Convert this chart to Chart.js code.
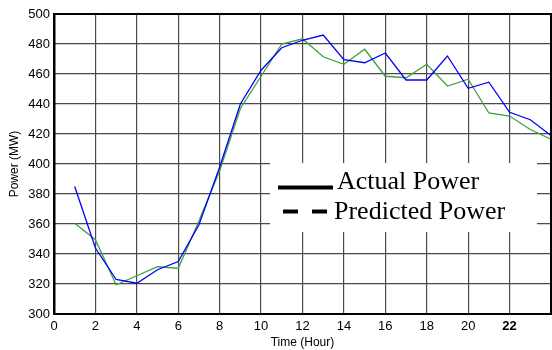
<!DOCTYPE html>
<html>
<head>
<meta charset="utf-8">
<script src="https://cdn.jsdelivr.net/npm/chart.js@4.4.1/dist/chart.umd.min.js"></script>
<style>
    html, body { margin: 0; padding: 0; background: #fff; }
    #wrap { width: 552px; height: 350px; position: relative; }
</style>
</head>
<body>
<div id="wrap"><canvas id="powerChart" width="552" height="350"></canvas></div>
<script>
// Hourly load data
const hours = [1, 2, 3, 4, 5, 6, 7, 8, 9, 10, 11, 12, 13, 14, 15, 16, 17, 18, 19, 20, 21, 22, 23, 24];
const actualPower = [385, 344, 323, 320.5, 329.5, 335, 359.5, 398, 440, 462.5, 477.5, 482.5, 486, 469.5, 467.5, 474, 456, 456, 472, 450.5, 454.5, 434.5, 429.5, 419];
const predictedPower = [360.5, 349.5, 319.5, 325.5, 331.5, 330.5, 362, 395.5, 437, 458.5, 480, 483.5, 471.5, 466.5, 476.5, 458.5, 457.5, 466.5, 452, 456.5, 434, 432, 423, 416.5];
const xTicks = [0, 2, 4, 6, 8, 10, 12, 14, 16, 18, 20, 22];
const legendItems = ['Actual Power', 'Predicted Power'];

const toPoints = (xs, ys) => xs.map((x, i) => ({ x: x, y: ys[i] }));

// White legend box inside the plot, drawn over the grid but under the lines
const boxLegend = {
    id: 'boxLegend',
    beforeDatasetsDraw(chart) {
        const ctx = chart.ctx;
        ctx.save();
        ctx.fillStyle = '#fff';
        ctx.fillRect(270, 163, 267, 69);

        ctx.strokeStyle = '#000';
        ctx.lineWidth = 4;
        ctx.beginPath();
        ctx.moveTo(278, 187.5);
        ctx.lineTo(333, 187.5);
        ctx.stroke();

        ctx.setLineDash([15, 14]);
        ctx.beginPath();
        ctx.moveTo(283, 211.5);
        ctx.lineTo(328, 211.5);
        ctx.stroke();
        ctx.setLineDash([]);

        ctx.fillStyle = '#000';
        ctx.font = '26px "Liberation Serif", "Times New Roman", serif';
        ctx.textBaseline = 'alphabetic';
        ctx.fillText(legendItems[0], 337, 189);
        ctx.fillText(legendItems[1], 334, 219);
        ctx.restore();
    }
};

// Black box around the plot area
const frame = {
    id: 'frame',
    afterDraw(chart) {
        const a = chart.chartArea;
        const ctx = chart.ctx;
        ctx.save();
        ctx.strokeStyle = '#000';
        ctx.lineWidth = 2;
        ctx.strokeRect(a.left, a.top, a.right - a.left, a.bottom - a.top);
        ctx.beginPath();
        ctx.moveTo(a.left + 0.5, a.top);
        ctx.lineTo(a.left + 0.5, a.bottom);
        ctx.stroke();
        ctx.restore();
    }
};

const ctx = document.getElementById('powerChart');

new Chart(ctx, {
    type: 'line',
    data: {
        datasets: [
            {
                label: 'Actual Power',
                data: toPoints(hours, actualPower),
                borderColor: '#0000ff',
                borderWidth: 1.3,
                pointRadius: 0,
                tension: 0
            },
            {
                label: 'Predicted Power',
                data: toPoints(hours, predictedPower),
                borderColor: '#3f9f3f',
                borderWidth: 1.3,
                pointRadius: 0,
                tension: 0
            }
        ]
    },
    options: {
        responsive: false,
        animation: false,
        layout: { padding: { top: 14, right: 1, left: 0, bottom: 0 } },
        plugins: {
            legend: { display: false },
            tooltip: { enabled: false }
        },
        scales: {
            x: {
                type: 'linear',
                min: 0,
                max: 24,
                afterBuildTicks: s => { s.ticks = xTicks.map(v => ({ value: v })); },
                afterFit: s => { s.height = 36; },
                grid: { color: '#4a4a4a', lineWidth: 1.2, drawTicks: false },
                border: { display: false },
                ticks: {
                    color: '#000',
                    padding: 5,
                    maxRotation: 0,
                    font: c => ({
                        family: '"Liberation Sans", Arial, sans-serif',
                        size: 13,
                        weight: c.tick && c.tick.value === 22 ? 'bold' : 'normal'
                    })
                },
                title: {
                    display: true,
                    text: 'Time (Hour)',
                    color: '#000',
                    padding: { top: 0, bottom: 0 },
                    font: { family: '"Liberation Sans", Arial, sans-serif', size: 12 }
                }
            },
            y: {
                min: 300,
                max: 500,
                afterFit: s => { s.width = 54; },
                grid: { color: '#4a4a4a', lineWidth: 1.2, drawTicks: false },
                border: { display: false },
                ticks: {
                    stepSize: 20,
                    color: '#000',
                    padding: 4,
                    font: { family: '"Liberation Sans", Arial, sans-serif', size: 13 }
                },
                title: {
                    display: true,
                    text: 'Power (MW)',
                    color: '#000',
                    padding: { top: 7, bottom: 0 },
                    font: { family: '"Liberation Sans", Arial, sans-serif', size: 12 }
                }
            }
        }
    },
    plugins: [boxLegend, frame]
});
</script>
</body>
</html>
